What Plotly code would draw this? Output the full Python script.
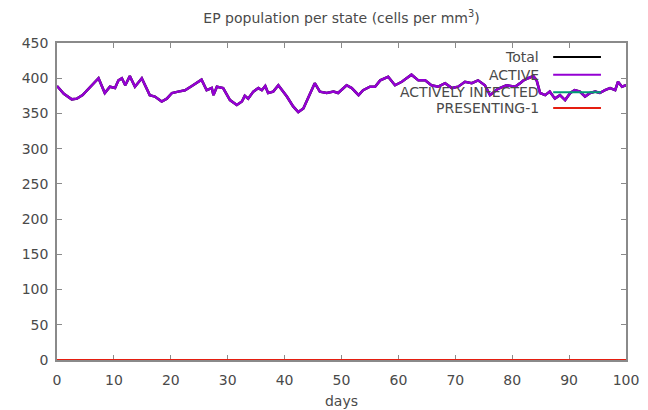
import plotly.graph_objects as go

# ---- data ----
days = [0, 1.2, 2.6, 3.5, 4.5, 6.1, 7.3, 8.4, 9.3, 10.2, 10.8, 11.4, 12, 12.8, 13.7, 14.9,
        16.3, 17.2, 18.4, 19.3, 20.2, 21.3, 22.5, 23.7, 25.4, 26.3, 27.2, 27.5, 28.1, 29.2,
        30.4, 31.6, 32.5, 33, 33.6, 34.5, 35.4, 36, 36.6, 37.1, 38, 38.9, 40.4, 41.5, 42.4,
        43.3, 44.5, 45.3, 46.2, 47.4, 48.6, 49.4, 50.9, 51.8, 53, 53.8, 55, 55.9, 56.8, 58.2,
        59.4, 60.6, 62.3, 63.5, 64.7, 65.8, 67, 68.2, 69.4, 70.5, 71.7, 72.9, 74, 75.2, 76.1,
        77.5, 79, 80.5, 81.4, 82, 82.8, 83.7, 84.3, 84.9, 85.8, 86.6, 87.5, 88.4, 89.3, 90.2,
        91, 91.9, 92.8, 93.7, 94.6, 95.4, 96.3, 97.2, 98.1, 98.6, 99.3, 100]
active = [389, 378, 370, 371, 376, 390, 400, 379, 388, 386, 397, 400, 390, 403, 388, 400,
          376, 374, 367, 371, 379, 381, 383, 389, 398, 383, 386, 376, 388, 386,
          369, 362, 367, 375, 371, 381, 386, 383, 389, 379, 381, 390, 374, 360, 352,
          357, 379, 393, 381, 379, 381, 379, 390, 386, 376, 383, 388, 388, 397, 402,
          390, 395, 405, 397, 397, 390, 388, 393, 386, 388, 395, 393, 397, 390, 376,
          385, 390, 388, 393, 397, 400, 403, 397, 379, 376, 381, 371, 376, 369, 379,
          383, 381, 374, 379, 381, 379, 383, 386, 383, 395, 388, 390]
n = min(len(days), len(active))
days, active = days[:n], active[:n]
total = list(active)                 # every cell is active
actively_infected = [0] * n
presenting_1 = [0] * n

series_names = ["Total", "ACTIVE", "ACTIVELY INFECTED", "PRESENTING-1"]
series_colors = ["#000000", "#9400D3", "#009E73", "#E51E10"]
series_values = [total, active, actively_infected, presenting_1]
x_ticks = list(range(0, 101, 10))
y_ticks = list(range(0, 451, 50))

FONT = "DejaVu Sans"
TXT = "#4a4a4a"
AX = "#8a8a8a"

fig = go.Figure()
widths = [2.5, 2.5, 2, 2]
for name, col, vals, w in zip(series_names, series_colors, series_values, widths):
    fig.add_trace(go.Scatter(x=days, y=vals, mode="lines", name=name,
                             line=dict(color=col, width=w), showlegend=False))

# gnuplot-style legend: right-aligned text with line sample on its right
leg_y = [0.956, 0.900, 0.845, 0.795]
for name, col, yy in zip(series_names, series_colors, leg_y):
    fig.add_annotation(x=0.851, y=yy, xref="paper", yref="paper", text=name,
                       showarrow=False, xanchor="right", yanchor="middle",
                       font=dict(family=FONT, size=14, color=TXT))
    fig.add_shape(type="line", xref="paper", yref="paper", x0=0.872, x1=0.956,
                  y0=yy, y1=yy, line=dict(color=col, width=2))

axis_common = dict(showline=True, linecolor=AX, linewidth=1.5, mirror="allticks",
                   ticks="inside", ticklen=5, tickcolor=AX, tickwidth=1.2,
                   showgrid=False, zeroline=False, automargin=False,
                   layer="below traces",
                   tickfont=dict(family=FONT, size=14, color=TXT))

fig.update_layout(
    width=648, height=410,
    margin=dict(l=57, r=22, t=43, b=50),
    paper_bgcolor="white", plot_bgcolor="white",
    title=dict(text="EP population per state (cells per mm<sup>3</sup>)",
               x=0.5, xref="paper", y=0.955, yanchor="middle",
               font=dict(family=FONT, size=14, color=TXT)),
    xaxis=dict(range=[0, 100], tickvals=x_ticks, ticklabelstandoff=6,
               title=dict(text="days", standoff=10, font=dict(family=FONT, size=14, color=TXT)),
               **axis_common),
    yaxis=dict(range=[0, 450], tickvals=y_ticks, ticklabelstandoff=4, **axis_common),
)

fig.write_html("out.html")
